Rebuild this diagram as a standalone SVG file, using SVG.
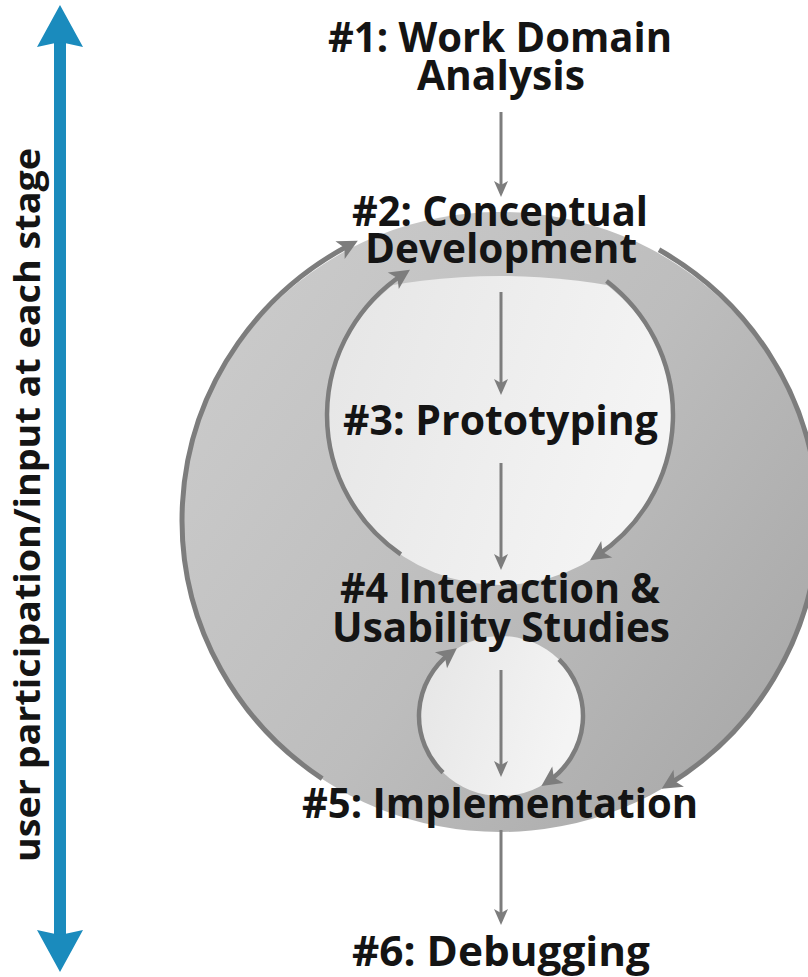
<svg xmlns="http://www.w3.org/2000/svg" width="808" height="977" viewBox="0 0 808 977">
  <defs>
    <linearGradient id="ringGrad" x1="0" y1="0.2" x2="1" y2="0.9">
      <stop offset="0" stop-color="#cbcbcb"/>
      <stop offset="0.5" stop-color="#bdbdbd"/>
      <stop offset="1" stop-color="#a6a6a6"/>
    </linearGradient>
    <linearGradient id="lightGrad" x1="0" y1="0" x2="1" y2="0.3">
      <stop offset="0" stop-color="#e5e5e5"/>
      <stop offset="1" stop-color="#f4f4f4"/>
    </linearGradient>
    <clipPath id="topCut">
      <ellipse cx="500" cy="520" rx="400" ry="244"/>
    </clipPath>
    <marker id="bigHead" markerUnits="userSpaceOnUse" viewBox="-14 -11 24 22" markerWidth="24" markerHeight="22" refX="0" refY="0" orient="auto" overflow="visible">
      <path d="M8,0 L-12,-10 L-7,0 L-12,10 Z" fill="#7d7d7d"/>
    </marker>
    <marker id="smallHead" markerUnits="userSpaceOnUse" viewBox="-14 -8 20 16" markerWidth="20" markerHeight="16" refX="0" refY="0" orient="auto" overflow="visible">
      <path d="M4,0 L-12,-7 L-8,0 L-12,7 Z" fill="#7d7d7d"/>
    </marker>
    <style>
      .t { font-family: "Open Sans", "Liberation Sans", sans-serif; font-weight: 700; font-size: 42px; fill: #141414; text-anchor: middle; }
      .side { font-family: "Open Sans", "Liberation Sans", sans-serif; font-weight: 700; font-size: 35px; fill: #141414; text-anchor: middle; }
      .arc { fill: none; stroke: #7d7d7d; stroke-width: 5; marker-end: url(#bigHead); }
      .arcIn { fill: none; stroke: #7d7d7d; stroke-width: 4.5; marker-end: url(#bigHead); }
      .down { fill: none; stroke: #7d7d7d; stroke-width: 3; marker-end: url(#smallHead); }
    </style>
  </defs>

  <!-- background shapes -->
  <g id="shapes">
    <ellipse cx="500" cy="522" rx="318" ry="310" fill="url(#ringGrad)"/>
    <ellipse cx="500" cy="417" rx="173" ry="168" fill="url(#lightGrad)" clip-path="url(#topCut)"/>
    <ellipse cx="501" cy="716" rx="82" ry="80" fill="url(#lightGrad)"/>
  </g>

  <!-- blue side arrow -->
  <g id="userArrow">
    <rect x="54" y="40" width="12" height="897" fill="#1a8bbd"/>
    <polygon points="60,5 83,47 60,42 37,47" fill="#1a8bbd"/>
    <polygon points="60,972 83,930 60,935 37,930" fill="#1a8bbd"/>
    <text class="side" transform="translate(40,505) rotate(-90)" textLength="714" lengthAdjust="spacingAndGlyphs">user participation/input at each stage</text>
  </g>

  <!-- connectors -->
  <g id="connectors">
    <path class="arc" d="M322.2,778.6 A318,312 0 0,1 350.7,244.5"/>
    <path class="arc" d="M659,249.8 A318,312 0 0,1 668.5,784.6"/>
    <path class="arcIn" d="M400.8,554.3 A173,170 0 0,1 403.3,274.1"/>
    <path class="arcIn" d="M606.5,281 A173,170 0 0,1 596.7,555.9"/>
    <path class="arcIn" d="M443,772.6 A82,80 0 0,1 450.5,653"/>
    <path class="arcIn" d="M559,659.4 A82,80 0 0,1 548,781.5"/>
    <path class="down" d="M501,112 V193"/>
    <path class="down" d="M501,292 V391"/>
    <path class="down" d="M501,463 V566"/>
    <path class="down" d="M501,670 V773"/>
    <path class="down" d="M501,830 V921"/>
  </g>

  <g id="n1">
    <text class="t"><tspan x="500" y="52" textLength="344" lengthAdjust="spacingAndGlyphs">#1: Work Domain</tspan><tspan x="501" y="90" textLength="168" lengthAdjust="spacingAndGlyphs">Analysis</tspan></text>
  </g>
  <g id="n2">
    <text class="t"><tspan x="500" y="226" textLength="296" lengthAdjust="spacingAndGlyphs">#2: Conceptual</tspan><tspan x="501" y="263" textLength="272" lengthAdjust="spacingAndGlyphs">Development</tspan></text>
  </g>
  <g id="n3">
    <text class="t" x="500.5" y="435" textLength="315" lengthAdjust="spacingAndGlyphs">#3: Prototyping</text>
  </g>
  <g id="n4">
    <text class="t"><tspan x="500" y="603" textLength="320" lengthAdjust="spacingAndGlyphs">#4 Interaction &amp;</tspan><tspan x="501" y="642" textLength="338" lengthAdjust="spacingAndGlyphs">Usability Studies</tspan></text>
  </g>
  <g id="n5">
    <text class="t" x="500" y="818" textLength="396" lengthAdjust="spacingAndGlyphs">#5: Implementation</text>
  </g>
  <g id="n6">
    <text class="t" x="501" y="966" textLength="298" lengthAdjust="spacingAndGlyphs">#6: Debugging</text>
  </g>
</svg>
